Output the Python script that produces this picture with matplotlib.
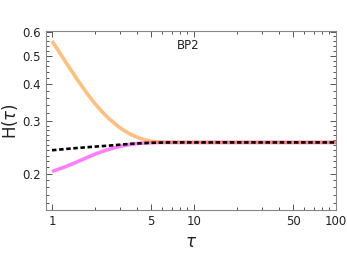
import numpy as np
import matplotlib
matplotlib.use("Agg")
import matplotlib.pyplot as plt
from matplotlib.ticker import FixedLocator, NullFormatter

# values
tau = [1, 1.25, 1.5, 1.75, 2, 2.25, 2.5, 3, 3.5, 4, 4.5, 5, 6, 7, 8, 10, 20, 50, 100]
h_orange = [0.56, 0.4748, 0.4164, 0.3749, 0.3451, 0.3235, 0.3075, 0.2859, 0.2730, 0.2650,
            0.2601, 0.2571, 0.2554, 0.2551, 0.255, 0.255, 0.255, 0.255, 0.255]
h_magenta = [0.2035, 0.2114, 0.2192, 0.2265, 0.2326, 0.2376, 0.2416, 0.2474, 0.2509, 0.2529,
             0.2539, 0.2545, 0.2549, 0.255, 0.255, 0.255, 0.255, 0.255, 0.255]
h_dashed = [0.240, 0.2423, 0.2442, 0.2456, 0.2468, 0.2478, 0.2487, 0.2505, 0.252, 0.253,
            0.2537, 0.2542, 0.2548, 0.255, 0.255, 0.255, 0.255, 0.255, 0.255]

xticks = [1, 5, 10, 50, 100]
yticks = [0.2, 0.3, 0.4, 0.5, 0.6]


def main():
    fig = plt.figure(figsize=(3.47, 2.54), dpi=100)
    ax = fig.add_axes([0.1326, 0.1732, 0.8354, 0.7048])

    ax.plot(tau, h_magenta, color=(1, 0, 1), alpha=0.5, lw=2.6, solid_capstyle='butt')
    ax.plot(tau, h_orange, color=(1, 0.5, 0), alpha=0.5, lw=2.6, solid_capstyle='butt')
    ax.plot(tau, h_dashed, color='k', lw=1.9, ls=(0, (1.7, 1.0)))

    ax.set_xscale('log')
    ax.set_yscale('log')
    ax.set_xlim(0.907, 100)
    ax.set_ylim(0.151, 0.605)

    ax.xaxis.set_major_locator(FixedLocator(xticks))
    ax.set_xticklabels([str(t) for t in xticks])
    ax.xaxis.set_minor_locator(FixedLocator([2, 3, 4, 6, 7, 8, 9, 20, 30, 40, 60, 70, 80, 90]))
    ax.xaxis.set_minor_formatter(NullFormatter())
    ax.yaxis.set_major_locator(FixedLocator(yticks))
    ax.set_yticklabels(['0.2', '0.3', '0.4', '0.5', '0.6'])
    ax.yaxis.set_minor_locator(FixedLocator([0.16, 0.17, 0.18, 0.19, 0.21, 0.22, 0.23, 0.24, 0.25,
                                             0.26, 0.27, 0.28, 0.29, 0.32, 0.34, 0.36, 0.38,
                                             0.42, 0.44, 0.46, 0.48, 0.52, 0.54, 0.56, 0.58]))
    ax.yaxis.set_minor_formatter(NullFormatter())

    ax.tick_params(which='both', direction='in', top=True, right=True,
                   labelsize=8.5, colors='#555555', labelcolor='#222222', width=0.7)
    ax.tick_params(which='major', length=4)
    ax.tick_params(which='minor', length=2)
    for s in ax.spines.values():
        s.set_color('#888888')
        s.set_linewidth(0.8)

    ax.set_ylabel(r'H($\tau$)', fontsize=12, color='#222222', labelpad=2)
    ax.set_xlabel(r'$\tau$', fontsize=12, color='#222222', labelpad=4)
    ax.text(0.45, 0.92, 'BP2', transform=ax.transAxes, fontsize=8.5, color='#222222',
            ha='left', va='center')

    fig.savefig('out.png', dpi=100)


if __name__ == '__main__':
    main()
